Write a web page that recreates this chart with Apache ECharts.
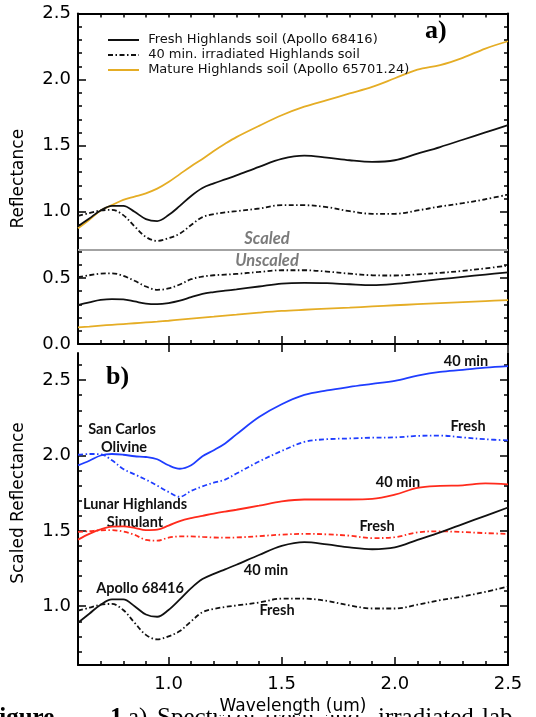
<!DOCTYPE html>
<html><head><meta charset="utf-8">
<script src="https://cdn.jsdelivr.net/npm/echarts@6/dist/echarts.min.js"></script>
<style>html,body{margin:0;padding:0;background:#fff}#c{width:536px;height:717px}</style>
</head><body><div id="c"></div>
<script>
// ---------- data ----------
const wavelength = [0.60,0.65,0.70,0.75,0.80,0.85,0.90,0.95,1.00,1.05,1.10,1.15,1.20,1.25,1.30,1.40,1.50,1.60,1.70,1.80,1.90,2.00,2.10,2.20,2.30,2.40,2.50];

// Panel a (scaled)
const freshHighlandsScaled = [0.89,0.95,1.01,1.045,1.045,1.00,0.945,0.93,0.975,1.045,1.12,1.18,1.215,1.245,1.275,1.34,1.40,1.425,1.41,1.39,1.378,1.39,1.44,1.49,1.545,1.60,1.655];
const irradHighlandsScaled = [0.97,0.99,1.01,1.015,0.975,0.89,0.81,0.78,0.80,0.835,0.90,0.96,0.982,0.995,1.005,1.025,1.05,1.05,1.035,1.005,0.985,0.985,1.01,1.04,1.065,1.095,1.13];
const matureHighlandsScaled = [0.875,0.94,1.01,1.05,1.09,1.115,1.14,1.175,1.225,1.285,1.345,1.40,1.46,1.515,1.565,1.65,1.73,1.795,1.845,1.895,1.945,2.01,2.075,2.11,2.165,2.235,2.29];
// Panel a (unscaled)
const freshHighlandsUnscaled = [0.295,0.315,0.333,0.34,0.337,0.322,0.306,0.302,0.31,0.328,0.355,0.38,0.393,0.403,0.413,0.435,0.457,0.462,0.46,0.452,0.446,0.455,0.472,0.49,0.508,0.525,0.542];
const irradHighlandsUnscaled = [0.505,0.52,0.532,0.535,0.515,0.478,0.435,0.41,0.42,0.45,0.49,0.51,0.52,0.525,0.53,0.545,0.558,0.558,0.548,0.532,0.52,0.518,0.527,0.538,0.553,0.572,0.593];
const matureHighlandsUnscaled = [0.125,0.132,0.139,0.145,0.151,0.157,0.163,0.169,0.176,0.184,0.192,0.2,0.207,0.215,0.222,0.237,0.25,0.259,0.267,0.275,0.284,0.293,0.301,0.309,0.317,0.325,0.332];
const scaledDivider = 0.712;

// Panel b
const olivine40min = [1.935,1.965,2.0,2.01,2.005,1.995,1.99,1.975,1.935,1.912,1.935,1.995,2.035,2.08,2.14,2.255,2.34,2.402,2.432,2.455,2.475,2.495,2.53,2.555,2.568,2.583,2.593];
const olivineFresh = [2.005,2.01,2.008,1.968,1.91,1.875,1.84,1.80,1.758,1.726,1.765,1.795,1.82,1.84,1.88,1.96,2.03,2.09,2.108,2.113,2.118,2.12,2.13,2.132,2.12,2.108,2.10];
const simulant40min = [1.442,1.48,1.51,1.528,1.53,1.52,1.505,1.508,1.535,1.565,1.585,1.60,1.615,1.628,1.64,1.667,1.695,1.708,1.708,1.708,1.712,1.74,1.785,1.798,1.802,1.815,1.808];
const simulantFresh = [1.493,1.498,1.504,1.505,1.495,1.474,1.44,1.435,1.455,1.463,1.463,1.46,1.456,1.455,1.456,1.465,1.475,1.48,1.477,1.468,1.452,1.458,1.49,1.497,1.492,1.485,1.48];
const apollo40min = freshHighlandsScaled;
const apolloFresh = irradHighlandsScaled;

// axes / ticks
const xMin = 0.6, xMax = 2.5;
const xMajorTicks = [1.0, 1.5, 2.0, 2.5];
const yAMin = 0, yAMax = 2.5;
const yBMin = 0.61, yBMax = 2.68;
const yBMajorTicks = [1.0, 1.5, 2.0, 2.5];
const yBMinorTicks = [];
for (let v = 7; v <= 26; v++) yBMinorTicks.push(v / 10);

const legendNames = ['Fresh Highlands soil (Apollo 68416)', '40 min. irradiated Highlands soil', 'Mature Highlands soil (Apollo 65701.24)'];

// ---------- chart ----------
const chart = echarts.init(document.getElementById('c'));
const BLACK = '#111', ORANGE = '#e5ad25', BLUE = '#1f3dff', RED = '#ff2b1c';
const DASHDOT = [5, 2.5, 1.5, 2.5];
const FONT = 'DejaVu Sans';

function xAxisBase(grid, pos, extra) {
  return Object.assign({
    type: 'value', gridIndex: grid, position: pos, min: xMin, max: xMax,
    axisLine: { show: true, onZero: false, lineStyle: { color: '#000', width: 2 } },
    axisTick: { show: true, inside: true, length: 4, lineStyle: { color: '#000', width: 1.5 } },
    axisLabel: { show: false }, splitLine: { show: false }
  }, extra || {});
}
function xAxisMajor(grid, pos, labels) {
  return {
    type: 'value', gridIndex: grid, position: pos, min: xMin, max: xMax,
    axisLine: { show: false },
    axisTick: { show: true, inside: true, length: 8, customValues: xMajorTicks, lineStyle: { color: '#000', width: 1.5 } },
    axisLabel: labels ? { show: true, customValues: xMajorTicks, formatter: v => v.toFixed(1), fontFamily: FONT, fontSize: 18, color: '#000', margin: 10 } : { show: false },
    splitLine: { show: false }
  };
}
function yAxisB(pos, major, labels) {
  return {
    type: 'value', gridIndex: 1, position: pos, min: yBMin, max: yBMax,
    axisLine: { show: !major, onZero: false, lineStyle: { color: '#000', width: 2 } },
    axisTick: { show: true, inside: true, length: major ? 8 : 4, customValues: major ? yBMajorTicks : yBMinorTicks, lineStyle: { color: '#000', width: 1.5 } },
    axisLabel: labels ? { show: true, customValues: yBMajorTicks, formatter: v => v.toFixed(1), fontFamily: FONT, fontSize: 18, color: '#000', margin: 7 } : { show: false },
    splitLine: { show: false },
    name: labels ? 'Scaled Reflectance' : '', nameLocation: 'middle', nameGap: 51,
    nameTextStyle: { fontFamily: FONT, fontSize: 17, color: '#000', padding: [0, 0, 0, 12] }
  };
}
function yAxisA(pos, labels) {
  return {
    type: 'value', gridIndex: 0, position: pos, min: yAMin, max: yAMax, interval: 0.5,
    axisLine: { show: true, onZero: false, lineStyle: { color: '#000', width: 2 } },
    axisTick: { show: true, inside: true, length: 8, lineStyle: { color: '#000', width: 1.5 } },
    minorTick: { show: true, splitNumber: 5, length: 4, lineStyle: { color: '#000', width: 1.5 } },
    axisLabel: labels ? { show: true, formatter: v => v.toFixed(1), fontFamily: FONT, fontSize: 18, color: '#000', margin: 7 } : { show: false },
    splitLine: { show: false }, minorSplitLine: { show: false },
    name: labels ? 'Reflectance' : '', nameLocation: 'middle', nameGap: 51,
    nameTextStyle: { fontFamily: FONT, fontSize: 17, color: '#000' }
  };
}

function pairs(ys) { return wavelength.map((x, i) => [x, ys[i]]); }
function line(name, ys, color, dashed, xi, yi, extra) {
  return Object.assign({
    name: name, type: 'line', xAxisIndex: xi, yAxisIndex: yi, data: pairs(ys),
    smooth: 0.35, symbol: 'none', showSymbol: false, silent: true, animation: false,
    lineStyle: { color: color, width: 1.8, type: dashed ? DASHDOT : 'solid' },
    itemStyle: { color: color }
  }, extra || {});
}

function note(text, x, y) {
  return { type: 'text', x: x, y: y, style: { text: text, font: 'bold 14.5px Lato', fill: '#111', align: 'center', verticalAlign: 'middle' } };
}
function captionWord(text, x, bold) {
  return { type: 'text', left: x, top: 706, z: -100, style: { text: text, font: (bold ? 'bold ' : '') + '25px "Liberation Serif"', fill: '#000' } };
}

const option = {
  backgroundColor: '#fff',
  animation: false,
  grid: [
    { left: 78, right: 28, top: 13.5, height: 330.5 },
    { left: 78, right: 28, top: 353, height: 312 }
  ],
  xAxis: [
    xAxisBase(0, 'bottom', { interval: 0.1 }),
    xAxisMajor(0, 'bottom', false),
    xAxisBase(0, 'top', { interval: 0.1 }),
    xAxisMajor(0, 'top', false),
    xAxisBase(1, 'bottom', { interval: 0.1, name: 'Wavelength (um)', nameLocation: 'middle', nameGap: 33,
      nameTextStyle: { fontFamily: FONT, fontSize: 17, color: '#000', backgroundColor: '#fff', padding: [0, 3, 0, 3] } }),
    xAxisMajor(1, 'bottom', true)
  ],
  yAxis: [
    yAxisA('left', true),
    yAxisA('right', false),
    yAxisB('left', false, false),
    yAxisB('left', true, true),
    yAxisB('right', false, false),
    yAxisB('right', true, false)
  ],
  legend: {
    data: legendNames, orient: 'vertical', left: 102, top: 27.5,
    itemWidth: 31, itemHeight: 10, itemGap: 0, selectedMode: false,
    itemStyle: { opacity: 0 },
    formatter: n => ' ' + n,
    textStyle: { fontFamily: FONT, fontSize: 13, color: '#111', lineHeight: 15 }
  },
  series: [
    line(legendNames[2], matureHighlandsScaled, ORANGE, false, 0, 0, {
      markLine: { silent: true, symbol: 'none', label: { show: false },
        lineStyle: { color: '#a3a3a3', width: 2, type: 'solid' },
        data: [{ yAxis: scaledDivider }] }
    }),
    line(legendNames[0], freshHighlandsScaled, BLACK, false, 0, 0),
    line(legendNames[1], irradHighlandsScaled, BLACK, true, 0, 0),
    line(legendNames[2], matureHighlandsUnscaled, ORANGE, false, 0, 0),
    line(legendNames[0], freshHighlandsUnscaled, BLACK, false, 0, 0),
    line(legendNames[1], irradHighlandsUnscaled, BLACK, true, 0, 0),

    line('Olivine 40 min', olivine40min, BLUE, false, 4, 2),
    line('Olivine fresh', olivineFresh, BLUE, true, 4, 2),
    line('Simulant 40 min', simulant40min, RED, false, 4, 2),
    line('Simulant fresh', simulantFresh, RED, true, 4, 2),
    line('Apollo 40 min', apollo40min, BLACK, false, 4, 2),
    line('Apollo fresh', apolloFresh, BLACK, true, 4, 2)
  ],
  graphic: [
    { type: 'text', left: 425, top: 18, style: { text: 'a)', font: 'bold 26px "Liberation Serif"', fill: '#000' } },
    { type: 'text', left: 106, top: 364, style: { text: 'b)', font: 'bold 26px "Liberation Serif"', fill: '#000' } },
    { type: 'text', x: 267, y: 239, style: { text: 'Scaled', font: 'italic bold 16.5px Lato', fill: '#7b7b7b', align: 'center', verticalAlign: 'middle' } },
    { type: 'text', x: 267, y: 261, style: { text: 'Unscaled', font: 'italic bold 16.5px Lato', fill: '#7b7b7b', align: 'center', verticalAlign: 'middle' } },

    note('40 min', 466, 361),
    note('Fresh', 468, 426),
    note('San Carlos', 122, 429),
    note('Olivine', 124, 447),
    note('40 min', 398, 482),
    note('Lunar Highlands', 135, 504),
    note('Simulant', 135, 522),
    note('Fresh', 377, 526),
    note('40 min', 266, 570),
    note('Apollo 68416', 140, 588),
    note('Fresh', 277, 610),

    captionWord('Figure', -16, true),
    captionWord('1.', 110, true),
    captionWord('a)', 128, false),
    captionWord('Spectra', 157, false),
    captionWord('of', 236, false),
    captionWord('fresh', 264, false),
    captionWord('and', 324, false),
    captionWord('irradiated', 378, false),
    captionWord('lab', 482, false)
  ]
};
chart.setOption(option);
</script>
</body></html>
